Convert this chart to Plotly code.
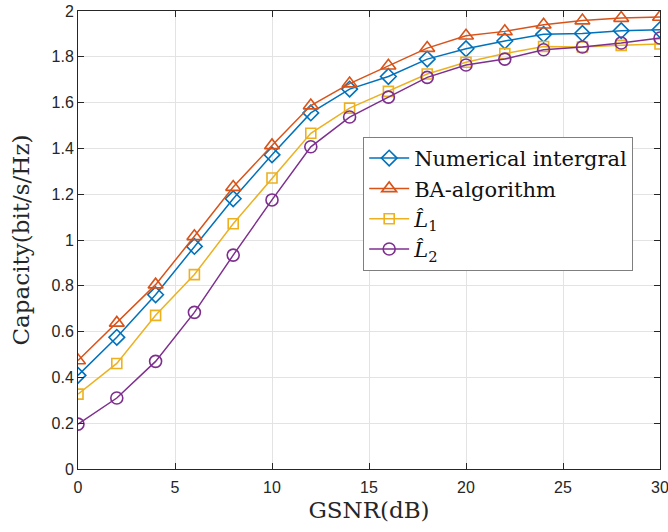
import plotly.graph_objects as go

# GSNR sweep (dB)
gsnr = [0, 2, 4, 6, 8, 10, 12, 14, 16, 18, 20, 22, 24, 26, 28, 30]

# Capacity curves (bit/s/Hz)
numerical = [0.409, 0.575, 0.761, 0.972, 1.180, 1.372, 1.555, 1.659,
             1.714, 1.790, 1.835, 1.869, 1.898, 1.902, 1.914, 1.918]
ba_algo = [0.474, 0.638, 0.805, 1.016, 1.231, 1.413, 1.587, 1.683,
           1.761, 1.838, 1.892, 1.911, 1.940, 1.958, 1.969, 1.974]
l1_hat = [0.327, 0.461, 0.671, 0.849, 1.071, 1.271, 1.466, 1.576,
          1.649, 1.725, 1.776, 1.814, 1.845, 1.843, 1.850, 1.856]
l2_hat = [0.196, 0.310, 0.470, 0.684, 0.934, 1.175, 1.407, 1.537,
          1.624, 1.710, 1.764, 1.790, 1.831, 1.843, 1.860, 1.882]

x_ticks = [0, 5, 10, 15, 20, 25, 30]
y_ticks = [0, 0.2, 0.4, 0.6, 0.8, 1, 1.2, 1.4, 1.6, 1.8, 2]
y_labels = ["0", "0.2", "0.4", "0.6", "0.8", "1", "1.2", "1.4", "1.6", "1.8", "2"]

series = [
    ("Numerical intergral", numerical, "#0072BD", "diamond-open", 12),
    ("BA-algorithm", ba_algo, "#D95319", "triangle-up-open", 13),
    ("<i>L\u0302</i><sub>1</sub>", l1_hat, "#EDB120", "square-open", 10),
    ("<i>L\u0302</i><sub>2</sub>", l2_hat, "#7E2F8E", "circle-open", 12),
]

SERIF = "DejaVu Serif, Liberation Serif, serif"

fig = go.Figure()
for name, ys, color, symbol, size in series:
    fig.add_trace(go.Scatter(
        x=gsnr, y=ys, name=name, mode="lines+markers",
        line=dict(color=color, width=1.5),
        marker=dict(symbol=symbol, size=size, color=color,
                    line=dict(color=color, width=1.6)),
    ))

axis_common = dict(
    showgrid=True, gridcolor="#e3e3e3", gridwidth=1,
    zeroline=False, showline=True, linecolor="#262626", linewidth=1,
    mirror="allticks", ticks="inside", ticklen=6, tickcolor="#262626",
    tickfont=dict(family="Liberation Sans, Arial", size=16, color="#262626"),
    ticklabeloverflow="allow",
)

fig.update_layout(
    width=668, height=532,
    margin=dict(l=78, r=8, t=11, b=63),
    paper_bgcolor="white", plot_bgcolor="white",
    xaxis=dict(range=[0, 30], tickvals=x_ticks, ticklabelstandoff=4,
               automargin="bottom",
               title=dict(text="GSNR(dB)", standoff=6,
                          font=dict(family=SERIF, size=23, color="#262626")),
               **axis_common),
    yaxis=dict(range=[0, 2], tickvals=y_ticks, ticktext=y_labels,
               automargin=False,
               title=dict(text="Capacity(bit/s/Hz)",
                          font=dict(family=SERIF, size=23, color="#262626")),
               **axis_common),
    legend=dict(x=0.49, y=0.725, xanchor="left", yanchor="top",
                bgcolor="white", bordercolor="#7f7f7f", borderwidth=1,
                font=dict(family=SERIF, size=21, color="#111111"),
                tracegroupgap=0, itemwidth=40),
    showlegend=True,
)

fig.write_html("out.html")
